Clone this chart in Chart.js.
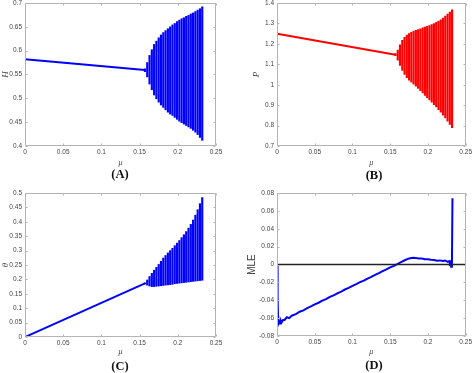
<!DOCTYPE html>
<html>
<head>
<meta charset="utf-8">
<script src="https://cdn.jsdelivr.net/npm/chart.js@4.4.0/dist/chart.umd.min.js"></script>
<style>
  html, body { margin: 0; padding: 0; background: #fff; }
  body { width: 474px; height: 373px; position: relative; overflow: hidden; }
  canvas { position: absolute; }
  .tag { position: absolute; width: 60px; text-align: center; font: bold 12.5px "Liberation Serif", serif; color: #111; }
</style>
</head>
<body>
<canvas id="chartA" width="237" height="200" style="left:0;top:-14px"></canvas>
<canvas id="chartB" width="237" height="200" style="left:237px;top:-14px"></canvas>
<canvas id="chartC" width="237" height="200" style="left:0;top:172px"></canvas>
<canvas id="chartD" width="237" height="200" style="left:237px;top:172px"></canvas>
<div class="tag" style="left:90px;top:167px">(A)</div>
<div class="tag" style="left:344px;top:168px">(B)</div>
<div class="tag" style="left:90px;top:359px">(C)</div>
<div class="tag" style="left:344px;top:358px">(D)</div>
<script>
// steady branch before the bifurcation
const steadyMu = [0, 0.157];
const hSteady = [0.582, 0.5595];
const pSteady = [1.249, 1.147];
const thSteady = [0, 0.186];

// columns of the oscillating region (mu) and their min / max
const muCols = [0.157, 0.160, 0.163, 0.166, 0.169, 0.172, 0.175, 0.178, 0.181, 0.184, 0.187, 0.190, 0.193,
  0.196, 0.199, 0.202, 0.205, 0.208, 0.211, 0.214, 0.217, 0.220, 0.223, 0.226, 0.229, 0.232];

const hUpper = [0.562, 0.575, 0.590, 0.602, 0.613, 0.620, 0.627, 0.633, 0.638, 0.642, 0.646, 0.650, 0.654,
  0.657, 0.661, 0.664, 0.667, 0.669, 0.672, 0.674, 0.677, 0.679, 0.682, 0.685, 0.688, 0.692];
const hLower = [0.556, 0.545, 0.530, 0.518, 0.507, 0.499, 0.492, 0.486, 0.481, 0.476, 0.471, 0.467, 0.464,
  0.460, 0.456, 0.452, 0.449, 0.446, 0.443, 0.440, 0.437, 0.433, 0.429, 0.424, 0.418, 0.412];

const pUpper = [1.152, 1.170, 1.195, 1.217, 1.232, 1.243, 1.250, 1.257, 1.262, 1.266, 1.270, 1.274, 1.278,
  1.282, 1.286, 1.290, 1.294, 1.299, 1.305, 1.311, 1.318, 1.326, 1.336, 1.346, 1.356, 1.366];
const pLower = [1.142, 1.120, 1.095, 1.070, 1.050, 1.035, 1.022, 1.012, 1.003, 0.993, 0.982, 0.971, 0.960,
  0.948, 0.937, 0.925, 0.914, 0.902, 0.891, 0.878, 0.865, 0.851, 0.837, 0.822, 0.806, 0.790];

const thUpper = [0.188, 0.198, 0.210, 0.221, 0.232, 0.242, 0.252, 0.263, 0.274, 0.283, 0.292, 0.300, 0.308,
  0.317, 0.326, 0.335, 0.345, 0.355, 0.366, 0.378, 0.391, 0.406, 0.423, 0.442, 0.463, 0.484];
const thLower = [0.184, 0.180, 0.177, 0.175, 0.175, 0.176, 0.177, 0.178, 0.179, 0.180, 0.181, 0.182, 0.183,
  0.185, 0.186, 0.187, 0.188, 0.189, 0.190, 0.191, 0.192, 0.193, 0.194, 0.195, 0.196, 0.197];

// maximal Lyapunov exponent
const mleMu = [0, 0.0008, 0.0015, 0.002, 0.003, 0.004, 0.005, 0.006, 0.008, 0.010, 0.013, 0.016, 0.020,
  0.025, 0.030, 0.035, 0.040, 0.045, 0.050, 0.055, 0.060, 0.065, 0.070, 0.075, 0.080, 0.085, 0.090, 0.095,
  0.100, 0.105, 0.110, 0.115, 0.120, 0.125, 0.130, 0.135, 0.140, 0.145, 0.150, 0.155, 0.160, 0.165, 0.170,
  0.175, 0.180, 0.184, 0.188, 0.192, 0.196, 0.200, 0.204, 0.208, 0.212, 0.216, 0.220, 0.223, 0.226, 0.228,
  0.229, 0.230, 0.231, 0.2318, 0.2325];
const mleVal = [0, -0.035, -0.063, -0.066, -0.064, -0.066, -0.063, -0.065, -0.062, -0.062, -0.059, -0.060, -0.057,
  -0.0555, -0.0528, -0.0513, -0.0487, -0.0468, -0.0446, -0.0428, -0.0405, -0.0388, -0.0363, -0.0345, -0.0322, -0.0303, -0.028, -0.0262,
  -0.024, -0.022, -0.0198, -0.018, -0.0157, -0.0138, -0.0115, -0.0096, -0.0074, -0.0054, -0.0033, -0.0015, 0.0008, 0.0029, 0.005,
  0.0068, 0.0075, 0.0072, 0.0068, 0.0066, 0.006, 0.0058, 0.0052, 0.005, 0.0043, 0.0046, 0.004, 0.0045, 0.003, 0.0038,
  0.0015, 0.0028, -0.0025, 0.001, 0.074];
const zeroMu = [0, 0.25];
const zeroVal = [0, 0];

const BLUE = '#0000ff';
const RED = '#ff0000';
const AXIS = '#b4b4b4';
const TEXT = '#444';

const pts = (xs, ys) => xs.map((x, i) => ({ x, y: ys[i] }));
const cols = (lo, hi) => muCols.map((x, i) => ({ x, y: [lo[i], hi[i]] }));
const fmt = (v) => String(+v.toFixed(4));

// MATLAB-like box with inward ticks
const boxTicks = {
  id: 'boxTicks',
  afterDatasetsDraw(chart) {
    const { ctx, chartArea: a, scales: { x, y } } = chart;
    const l = Math.round(a.left) + 0.5, r = Math.round(a.right) - 0.5;
    const t = Math.round(a.top) + 0.5, b = Math.round(a.bottom) - 0.5;
    ctx.save();
    ctx.strokeStyle = AXIS;
    ctx.lineWidth = 1;
    ctx.beginPath();
    x.ticks.forEach((tk) => {
      const px = Math.round(x.getPixelForValue(tk.value)) + 0.5;
      ctx.moveTo(px, b); ctx.lineTo(px, b - 2);
      ctx.moveTo(px, t); ctx.lineTo(px, t + 2);
    });
    y.ticks.forEach((tk) => {
      const py = Math.round(y.getPixelForValue(tk.value)) + 0.5;
      ctx.moveTo(l, py); ctx.lineTo(l + 2, py);
      ctx.moveTo(r, py); ctx.lineTo(r - 2, py);
    });
    ctx.rect(l, t, r - l, b - t);
    ctx.stroke();
    ctx.restore();
  },
};

function makePanel(id, p) {
  return new Chart(document.getElementById(id), {
    type: 'line',
    data: { datasets: p.datasets },
    options: {
      responsive: false,
      animation: false,
      devicePixelRatio: 1,
      layout: { padding: p.pad },
      plugins: { legend: { display: false }, tooltip: { enabled: false } },
      elements: { point: { radius: 0 }, line: { tension: 0 } },
      scales: {
        x: {
          type: 'linear',
          min: 0,
          max: 0.25,
          offset: false,
          grid: { display: false, drawTicks: false },
          border: { display: false },
          ticks: { stepSize: 0.05, padding: 2, color: TEXT, font: { size: 6.5, family: 'Liberation Sans' }, callback: fmt, maxRotation: 0 },
          title: { display: true, text: 'μ', color: TEXT, padding: 0, font: { size: 8, style: 'italic', family: 'Liberation Serif' } },
          afterFit: (s) => { s.height = p.hx; },
        },
        y: {
          min: p.yMin,
          max: p.yMax,
          grid: { display: false, drawTicks: false },
          border: { display: false },
          ticks: { stepSize: p.yStep, padding: 3, color: TEXT, font: { size: 6.5, family: 'Liberation Sans' }, callback: fmt },
          title: { display: true, text: p.yTitle, color: TEXT, padding: 0, font: p.yFont },
          afterFit: (s) => { s.width = p.wy; },
        },
      },
    },
    plugins: [boxTicks],
  });
}

function bifurcation(color, steady, lo, hi) {
  return [
    { data: pts(steadyMu, steady), borderColor: color, borderWidth: 2, pointRadius: 0 },
    { type: 'bar', data: cols(lo, hi), backgroundColor: color, borderWidth: 0, barThickness: 1.5, grouped: false },
  ];
}

const italicFont = { size: 9, style: 'italic', family: 'Liberation Serif' };

makePanel('chartA', {
  datasets: bifurcation(BLUE, hSteady, hLower, hUpper),
  yMin: 0.4, yMax: 0.7, yStep: 0.05, yTitle: 'H', yFont: italicFont,
  pad: { left: 0, top: 17, right: 21, bottom: 18 }, wy: 25, hx: 22,
});

makePanel('chartB', {
  datasets: bifurcation(RED, pSteady, pLower, pUpper),
  yMin: 0.7, yMax: 1.4, yStep: 0.1, yTitle: 'P', yFont: italicFont,
  pad: { left: 14, top: 17, right: 8, bottom: 18 }, wy: 26, hx: 22,
});

makePanel('chartC', {
  datasets: bifurcation(BLUE, thSteady, thLower, thUpper),
  yMin: 0, yMax: 0.5, yStep: 0.05, yTitle: 'θ', yFont: italicFont,
  pad: { left: 0, top: 21, right: 21, bottom: 15 }, wy: 25, hx: 20,
});

makePanel('chartD', {
  datasets: [
    { data: pts(zeroMu, zeroVal), borderColor: '#222', borderWidth: 1.5, pointRadius: 0 },
    { data: pts(mleMu, mleVal), borderColor: BLUE, borderWidth: 2, pointRadius: 0 },
  ],
  yMin: -0.08, yMax: 0.08, yStep: 0.02, yTitle: 'MLE', yFont: { size: 10, family: 'Liberation Sans' },
  pad: { left: 9, top: 21, right: 8, bottom: 15 }, wy: 31, hx: 21,
});
</script>
</body>
</html>
